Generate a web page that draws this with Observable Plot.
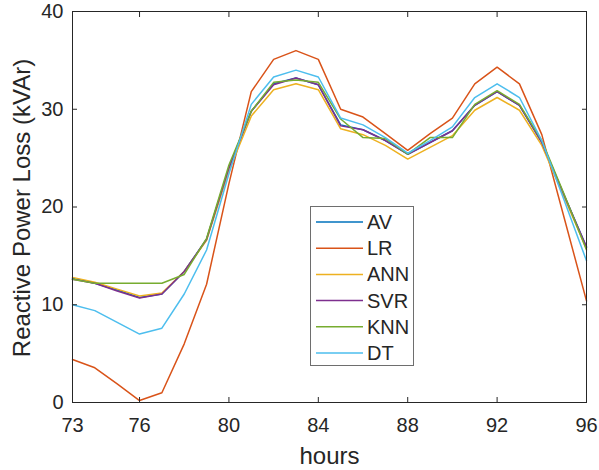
<!DOCTYPE html>
<html><head><meta charset="utf-8">
<script src="https://cdn.jsdelivr.net/npm/d3@7"></script>
<script src="https://cdn.jsdelivr.net/npm/@observablehq/plot@0.6"></script>
<style>
body{margin:0;background:#fff;}
#wrap{position:relative;width:599px;height:470px;font-family:"Liberation Sans",Arial,Helvetica,sans-serif;}
#legend{position:absolute;left:310px;top:206px;width:104px;height:160px;border:1px solid #6e6e6e;background:#fff;box-sizing:border-box;}
#legend svg{display:block;}
</style></head><body><div id="wrap"></div>
<script>
const hours = [73,74,75,76,77,78,79,80,81,82,83,84,85,86,87,88,89,90,91,92,93,94,95,96];
const seriesNames = ["AV","LR","ANN","SVR","KNN","DT"];
const seriesColors = ["#0072BD","#D95319","#EDB120","#7E2F8E","#77AC30","#4DBEEE"];
const AV  = [12.7,12.2,11.5,10.75,11.1,13.4,16.7,24.0,29.8,32.6,33.2,32.5,28.4,27.9,26.8,25.4,26.6,27.8,30.4,31.8,30.4,26.6,21.2,15.9];
const LR  = [4.4,3.55,1.9,0.2,1.0,6.0,12.1,22.4,31.8,35.1,36.0,35.1,30.0,29.2,27.5,25.8,27.5,29.1,32.6,34.3,32.6,27.4,18.9,10.4];
const ANN = [12.8,12.3,11.6,10.9,11.2,13.4,16.6,23.7,29.3,32.0,32.6,32.0,28.0,27.4,26.3,24.9,26.1,27.3,29.9,31.2,29.9,26.3,21.0,15.7];
const SVR = [12.6,12.2,11.4,10.7,11.1,13.4,16.7,24.0,29.8,32.5,33.2,32.5,28.3,27.9,26.8,25.4,26.6,27.8,30.4,31.8,30.4,26.6,21.2,15.9];
const KNN = [12.6,12.2,12.2,12.2,12.2,13.1,16.8,24.3,29.8,32.75,33.0,32.75,29.0,27.1,27.0,25.4,27.1,27.1,30.5,31.9,30.5,26.8,21.3,15.6];
const DT  = [10.0,9.4,8.2,7.0,7.6,11.1,15.6,23.4,30.5,33.3,34.0,33.3,29.1,28.4,27.1,25.5,26.8,28.2,31.2,32.6,31.2,26.8,20.7,14.5];
const xTicks = [73,76,80,84,88,92,96];
const yTicks = [0,10,20,30,40];
const xLabel = "hours";
const yLabel = "Reactive Power Loss (kVAr)";

const seriesValues = [AV, LR, ANN, SVR, KNN, DT];
const rows = seriesNames.flatMap((name, i) => hours.map((h, j) => ({hour: h, value: seriesValues[i][j], series: name})));
const ink = "#262626";
const font = "'Liberation Sans', Arial, Helvetica, sans-serif";

const plot = Plot.plot({
  width: 599, height: 470,
  marginLeft: 72, marginRight: 13, marginTop: 11, marginBottom: 68,
  style: {fontFamily: font, fontSize: "20px", color: ink, background: "#fff"},
  x: {domain: [73, 96]},
  y: {domain: [0, 40]},
  color: {domain: seriesNames, range: seriesColors},
  marks: [
    Plot.lineY(rows, {x: "hour", y: "value", stroke: "series", strokeWidth: 1.5}),
    Plot.frame({stroke: ink, strokeWidth: 1}),
    Plot.axisX({ticks: xTicks, tickSize: 0, tickPadding: 15, label: null, fontSize: 20, fill: ink}),
    Plot.axisX({ticks: xTicks, tickSize: -5, tickFormat: () => "", label: null, stroke: ink}),
    Plot.axisX({anchor: "top", ticks: xTicks, tickSize: -5, tickFormat: () => "", label: null, stroke: ink}),
    Plot.axisY({ticks: yTicks, tickSize: 0, tickPadding: 9, label: null, fontSize: 20, fill: ink}),
    Plot.axisY({ticks: yTicks, tickSize: -5, tickFormat: () => "", label: null, stroke: ink}),
    Plot.axisY({anchor: "right", ticks: yTicks, tickSize: -5, tickFormat: () => "", label: null, stroke: ink}),
    Plot.text([xLabel], {text: d => d, frameAnchor: "bottom", dy: 61, fontSize: 24, fill: ink}),
    Plot.text([yLabel], {text: d => d, frameAnchor: "left", textAnchor: "middle", dx: -50, dy: 1, rotate: -90, fontSize: 24, fill: ink})
  ]
});
const wrap = document.getElementById("wrap");
wrap.appendChild(plot);

// legend
const leg = document.createElement("div");
leg.id = "legend";
wrap.appendChild(leg);
const lsvg = d3.select(leg).append("svg").attr("width", 102).attr("height", 158);
seriesNames.forEach((name, i) => {
  const cy = 15 + i * 26.2;
  lsvg.append("line").attr("x1", 5).attr("x2", 52).attr("y1", cy).attr("y2", cy)
    .attr("stroke", seriesColors[i]).attr("stroke-width", 1.5);
  lsvg.append("text").attr("x", 56).attr("y", cy).attr("dy", "0.35em")
    .attr("font-family", font).attr("font-size", 20).attr("fill", ink).text(name);
});
</script></body></html>
